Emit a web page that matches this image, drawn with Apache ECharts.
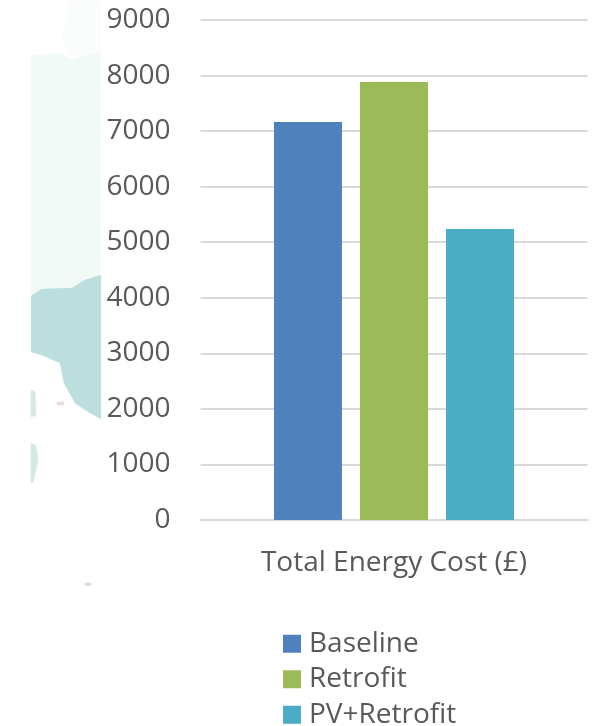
<!DOCTYPE html>
<html><head><meta charset="utf-8">
<style>html,body{margin:0;padding:0;background:#fff}#c{width:600px;height:726px}</style>
<script src="https://cdn.jsdelivr.net/npm/echarts@6/dist/echarts.min.js"></script></head>
<body><div id="c"></div>
<script>
const categories = ['Total Energy Cost (£)'];
const seriesNames = ['Baseline', 'Retrofit', 'PV+Retrofit'];
const baseline = [7165];
const retrofit = [7885];
const pvRetrofit = [5240];
const colors = ['#4f81bd', '#9bbb59', '#4bacc6'];
const yTicks = {min: 0, max: 9000, interval: 1000};
const font = '"Open Sans"';
const textColor = '#595959';
const chart = echarts.init(document.getElementById('c'), null, {renderer: 'canvas'});
const poly = (points, fill, blur = 3) => ({type: 'polygon', silent: true, z: -10, shape: {points},
  style: {fill, shadowBlur: blur, shadowColor: fill}});
chart.setOption({
  animation: false,
  backgroundColor: '#fff',
  textStyle: {fontFamily: font},
  graphic: [
    {type: 'group', silent: true, children: [
      poly([[70,0],[101,0],[101,56],[75,58],[62,40]], '#fafdfc', 6),
      poly([[31,56],[60,53],[72,60],[101,52],[101,282],[70,287],[45,290],[31,296]], '#f2faf8', 1),
      poly([[31,296],[42,289],[72,288],[85,280],[101,275],[101,419],[90,413],[75,403],[64,383],[60,363],[42,355],[31,352]], '#bcdfdd', 1),
      poly([[31,390],[35,392],[36,415],[31,417]], '#d5e8e6', 2),
      poly([[31,443],[36,446],[38,460],[33,482],[31,483]], '#d5e8e6', 2),
      poly([[57,402],[64,402],[64,405],[57,405]], '#e6dcd8', 2),
      poly([[85,583],[91,583],[91,586],[85,586]], '#dedede', 2)
    ]}
  ],
  grid: {left: 200.5, right: 12.5, top: 20, height: 500},
  legend: {
    orient: 'vertical', left: 278, top: 621, height: 200, itemWidth: 18, itemHeight: 18, itemGap: 0,
    icon: 'rect', data: seriesNames,
    textStyle: {fontFamily: font, fontSize: 28, color: textColor, lineHeight: 35.5, padding: [0, 0, 0, 3]}
  },
  xAxis: {
    type: 'category', data: categories,
    axisLine: {lineStyle: {color: '#d9d9d9', width: 2}}, axisTick: {show: false},
    axisLabel: {fontFamily: font, fontSize: 28, color: textColor, margin: 29}
  },
  yAxis: {
    type: 'value', min: yTicks.min, max: yTicks.max, interval: yTicks.interval,
    axisLine: {show: false}, axisTick: {show: false},
    splitLine: {lineStyle: {color: '#d9d9d9', width: 2}},
    axisLabel: {fontFamily: font, fontSize: 28, color: textColor, margin: 30, padding: [4, 0, 0, 0], formatter: v => String(v)}
  },
  series: [baseline, retrofit, pvRetrofit].map((d, i) => ({
    type: 'bar', name: seriesNames[i], data: d, barWidth: 68, barGap: '26.5%',
    itemStyle: {color: colors[i]}
  }))
});
</script></body></html>
